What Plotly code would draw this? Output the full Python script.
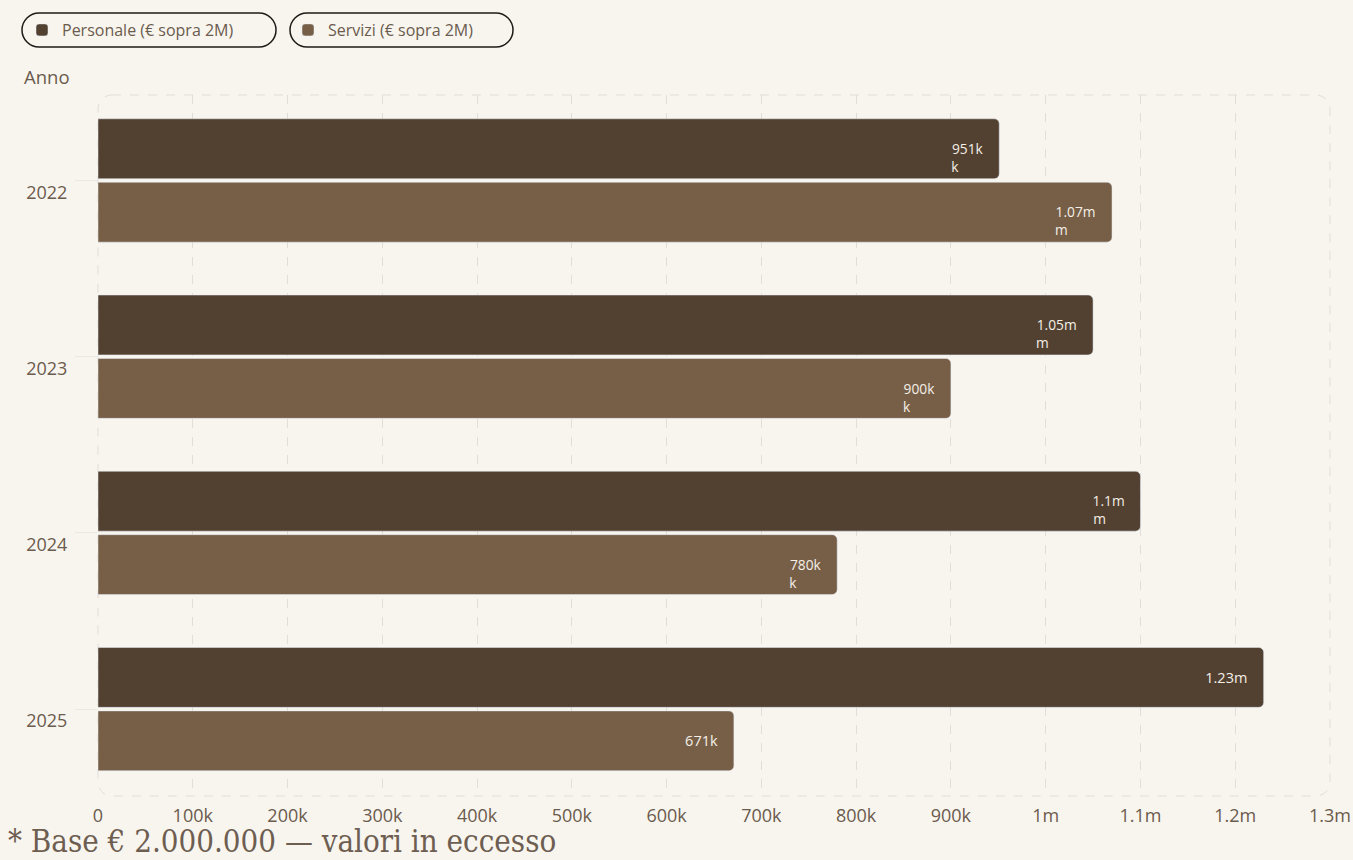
import plotly.graph_objects as go

years = ["2022", "2023", "2024", "2025"]
personale = [951000, 1050000, 1100000, 1230000]
servizi = [1070000, 900000, 780000, 671000]
NB = "\u00a0"
personale_labels = [NB + "<br>951k" + NB * 3 + "<br>k" + NB * 10,
                    NB + "<br>1.05m" + NB * 3 + "<br>m" + NB * 11,
                    NB + "<br>1.1m" + NB * 3 + "<br>m" + NB * 8,
                    "1.23m" + NB * 3]
servizi_labels = [NB + "<br>1.07m" + NB * 3 + "<br>m" + NB * 11,
                  NB + "<br>900k" + NB * 3 + "<br>k" + NB * 10,
                  NB + "<br>780k" + NB * 3 + "<br>k" + NB * 10,
                  "671k" + NB * 3]
tick_vals = [0, 100000, 200000, 300000, 400000, 500000, 600000, 700000,
             800000, 900000, 1000000, 1100000, 1200000, 1300000]
tick_text = ["0", "100k", "200k", "300k", "400k", "500k", "600k", "700k",
             "800k", "900k", "1m", "1.1m", "1.2m", "1.3m"]

C_PERS = "#524131"
C_SERV = "#775f47"
BG = "#f8f5ef"
TXT = "#6b5b4d"
GRID = "#e1ddd9"

W, H = 1353, 860
ML, MR, MT, MB = 98, 23, 95, 64
PW, PH = W - ML - MR, H - MT - MB


def px_x(px):
    return (px - ML) / PW


def px_y(py):
    return (H - MB - py) / PH


fig = go.Figure()
for name, vals, labels, color in [
    ("Personale (€ sopra 2M)", personale, personale_labels, C_PERS),
    ("Servizi (€ sopra 2M)", servizi, servizi_labels, C_SERV),
]:
    fig.add_trace(go.Bar(
        y=years, x=vals, name=name, orientation="h",
        marker=dict(color=color, cornerradius=5),
        text=labels, textposition="inside", insidetextanchor="end",
        constraintext="none", textangle=0,
        textfont=dict(color="#f4efe7", size=14.5, family="Open Sans"),
        hoverinfo="x+y",
    ))

shapes = []


def pill(cx, cy, w, h):
    a, b = w / 2, h / 2
    r = b
    k = 0.552 * r
    path = (f"M {-a + r},{-b} L {a - r},{-b} "
            f"C {a - r + k},{-b} {a},{-k} {a},0 "
            f"C {a},{k} {a - r + k},{b} {a - r},{b} "
            f"L {-a + r},{b} "
            f"C {-a + r - k},{b} {-a},{k} {-a},0 "
            f"C {-a},{-k} {-a + r - k},{-b} {-a + r},{-b} Z")
    return dict(type="path", xref="paper", yref="paper",
                xsizemode="pixel", ysizemode="pixel",
                xanchor=px_x(cx), yanchor=px_y(cy), path=path,
                line=dict(color="#1e1a17", width=1.5), fillcolor="rgba(0,0,0,0)",
                layer="below")


shapes.append(pill(149, 30, 254, 34))
shapes.append(pill(401.5, 30, 223, 34))

rx, ry = 14 / PW, 14 / PH
kx, ky = 0.552 * rx, 0.552 * ry
frame = (f"M {rx},1 L {1 - rx},1 C {1 - rx + kx},1 1,{1 - ry + ky} 1,{1 - ry} "
         f"L 1,{ry} C 1,{ry - ky} {1 - rx + kx},0 {1 - rx},0 "
         f"L {rx},0 C {rx - kx},0 0,{ry - ky} 0,{ry} "
         f"L 0,{1 - ry} C 0,{1 - ry + ky} {rx - kx},1 {rx},1 Z")
shapes.append(dict(type="path", xref="paper", yref="paper", path=frame,
                   line=dict(color=GRID, width=1, dash="dash"),
                   fillcolor="rgba(0,0,0,0)", layer="below"))

fig.update_layout(
    width=W, height=H,
    paper_bgcolor=BG, plot_bgcolor=BG,
    margin=dict(l=ML, r=MR, t=MT, b=MB),
    font=dict(family="Open Sans", color=TXT, size=16),
    barmode="group", bargap=0.28, bargroupgap=0.056,
    showlegend=True,
    legend=dict(orientation="h", x=px_x(22), xanchor="left",
                y=px_y(30), yanchor="middle", traceorder="normal",
                font=dict(size=16, color=TXT), entrywidth=221,
                bgcolor="rgba(0,0,0,0)", itemclick=False),
    shapes=shapes,
    xaxis=dict(range=[0, 1300000], tickvals=tick_vals, ticktext=tick_text,
               showgrid=True, gridcolor=GRID, griddash="dash", gridwidth=1,
               zeroline=False, showline=False, ticks="", automargin=False,
               ticklabelstandoff=7,
               tickfont=dict(size=18, color=TXT)),
    yaxis=dict(type="category", categoryorder="array", categoryarray=years,
               range=[3.493, -0.485], showgrid=False, zeroline=False,
               showline=False, ticks="outside", ticklen=22, automargin=False,
               tickcolor="#ebe7e3", ticklabelshift=-12, ticklabelstandoff=4,
               tickfont=dict(size=18, color=TXT)),
    annotations=[
        dict(text="Anno", xref="paper", yref="paper", x=px_x(22),
             y=px_y(77), xanchor="left", yanchor="middle", showarrow=False,
             font=dict(size=18.5, color=TXT)),
        dict(text="* Base € 2.000.000 — valori in eccesso", xref="paper",
             yref="paper", x=px_x(6), y=px_y(841), xanchor="left",
             yanchor="middle", showarrow=False,
             font=dict(size=31, color="#6e5e51",
                       family="DejaVu Serif Condensed, DejaVu Serif")),
    ],
)

fig.write_html("out.html", config={"displayModeBar": False},
               post_script="document.body.style.margin='0';document.body.style.background='%s';" % BG)
